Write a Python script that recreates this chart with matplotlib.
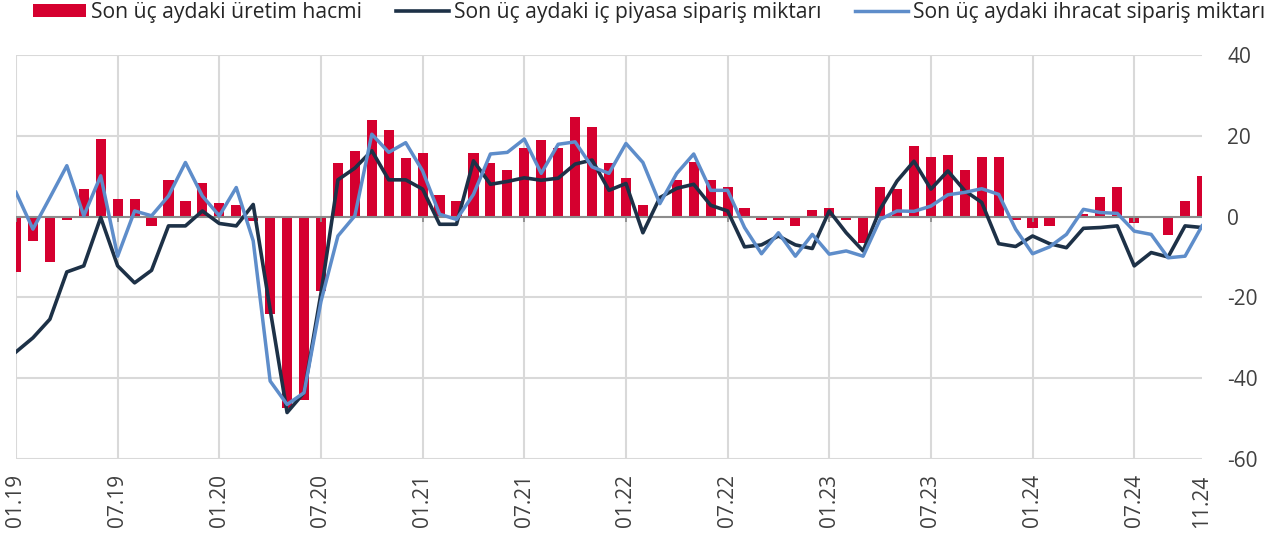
import matplotlib
matplotlib.use("Agg")
import matplotlib.pyplot as plt
from matplotlib.lines import Line2D
from matplotlib.patches import Patch

plt.rcParams['font.family'] = ['Open Sans', 'DejaVu Sans']
plt.rcParams['axes.unicode_minus'] = False

# Data: monthly, 01.19 .. 11.24
months = [f"{m:02d}.{y}" for y in range(19, 25) for m in range(1, 13)][:71]

production = [
    -13.7, -6.0, -11.2, -0.8, 6.9, 19.3, 4.4, 4.4, -2.4, 9.0, 3.8, 8.4,
    3.3, 2.8, -1.0, -24.2, -47.3, -45.5, -18.4, 13.2, 16.3, 24.0, 21.4, 14.6,
    15.7, 5.3, 3.9, 15.7, 13.2, 11.6, 16.9, 18.9, 16.9, 24.7, 22.1, 13.2,
    9.5, 2.8, 0.0, 9.0, 13.6, 9.0, 7.4, 2.2, -0.8, -0.8, -2.4, 1.7,
    2.2, -0.8, -6.5, 7.4, 6.9, 17.4, 14.8, 15.3, 11.6, 14.8, 14.8, -0.8,
    -2.9, -2.4, 0.2, 0.7, 4.9, 7.4, -1.7, 0.0, -4.5, 3.9, 10.1,
]

domestic = [
    -33.5, -30.0, -25.4, -13.7, -12.2, -0.2, -12.2, -16.4, -13.3, -2.3, -2.3, 1.4,
    -1.7, -2.3, 3.0, -23.0, -48.5, -43.6, -19.0, 9.1, 12.0, 16.3, 9.1, 9.1,
    6.8, -1.9, -1.9, 13.8, 8.0, 8.7, 9.6, 9.0, 9.5, 13.0, 14.0, 6.5,
    8.2, -4.0, 4.7, 7.0, 8.0, 2.8, 1.4, -7.5, -7.0, -4.8, -7.0, -7.9,
    1.4, -4.0, -8.5, 1.8, 8.8, 13.7, 6.8, 11.3, 6.4, 3.5, -6.7, -7.4,
    -4.8, -6.7, -7.7, -2.9, -2.7, -2.3, -12.2, -8.9, -10.0, -2.3, -2.7,
]

export = [
    6.0, -3.1, 4.7, 12.6, 0.2, 10.1, -9.8, 1.4, 0.2, 5.1, 13.4, 5.1,
    0.2, 7.2, -6.0, -40.7, -46.5, -43.6, -21.0, -4.8, 0.2, 20.4, 15.9, 18.3,
    11.3, 0.6, -0.7, 5.5, 15.5, 15.9, 19.2, 10.7, 17.9, 18.5, 12.3, 10.7,
    18.1, 13.4, 3.2, 10.7, 15.5, 6.5, 6.5, -2.7, -9.2, -4.0, -9.8, -4.4,
    -9.3, -8.5, -9.8, -0.7, 1.4, 1.3, 2.6, 5.4, 6.0, 6.9, 5.5, -3.1,
    -9.2, -7.5, -4.4, 1.8, 1.0, 0.8, -3.6, -4.4, -10.2, -9.8, -2.3,
]

series_names = [
    "Son üç aydaki üretim hacmi",
    "Son üç aydaki iç piyasa sipariş miktarı",
    "Son üç aydaki ihracat sipariş miktarı",
]

red = "#D5002F"
navy = "#1D3147"
blue = "#5E8DCA"
grid_col = "#D9D9D9"
zero_col = "#8C8C8C"
text_col = "#404040"

x = list(range(len(months)))
tick_pos = list(range(0, len(months), 6)) + [len(months) - 1]
tick_labels = [months[i] for i in tick_pos]

fig = plt.figure(figsize=(12.75, 5.39), dpi=100)
ax = fig.add_axes([16 / 1275, 1 - 459 / 539, (1202 - 16) / 1275, (459 - 55) / 539])

ax.bar(x, production, width=0.6, color=red, zorder=2)
ax.axhline(0, color=zero_col, lw=1.5, zorder=3)
# little tick marks hanging under the zero line
ax.vlines(tick_pos[:-1], -1.3, 0, color=zero_col, lw=1.3, zorder=3)
ax.plot(x, domestic, color=navy, lw=2.6, zorder=4, solid_joinstyle="round")
ax.plot(x, export, color=blue, lw=2.5, zorder=5, solid_joinstyle="round")

ax.set_xlim(0, len(months) - 1)
ax.set_ylim(-60, 40)
ax.set_yticks([40, 20, 0, -20, -40, -60])
ax.set_xticks(tick_pos)
ax.set_xticklabels(tick_labels, rotation=90)

ax.yaxis.tick_right()
ax.tick_params(axis="y", length=0, pad=18, labelsize=15, labelcolor=text_col)
ax.tick_params(axis="x", length=0, pad=11, labelsize=15, labelcolor=text_col)
for lab in ax.get_yticklabels():
    lab.set_horizontalalignment("left")

ax.grid(True, color=grid_col, lw=1.5, zorder=0)
ax.set_axisbelow(True)
ax.xaxis.get_gridlines()[-1].set_visible(False)
for s in ax.spines.values():
    s.set_visible(False)

handles = [
    Patch(facecolor=red, edgecolor="none"),
    Line2D([], [], color=navy, lw=2.6),
    Line2D([], [], color=blue, lw=2.5),
]
fig.legend(handles, series_names, loc="upper left", bbox_to_anchor=(33 / 1275, 1 - 2 / 539),
           ncol=3, frameon=False, fontsize=15.2, handlelength=2.5, handleheight=0.6,
           handletextpad=0.25, columnspacing=1.6, borderaxespad=0, borderpad=0,
           labelcolor="#262626")

fig.savefig("out.png", dpi=100)
